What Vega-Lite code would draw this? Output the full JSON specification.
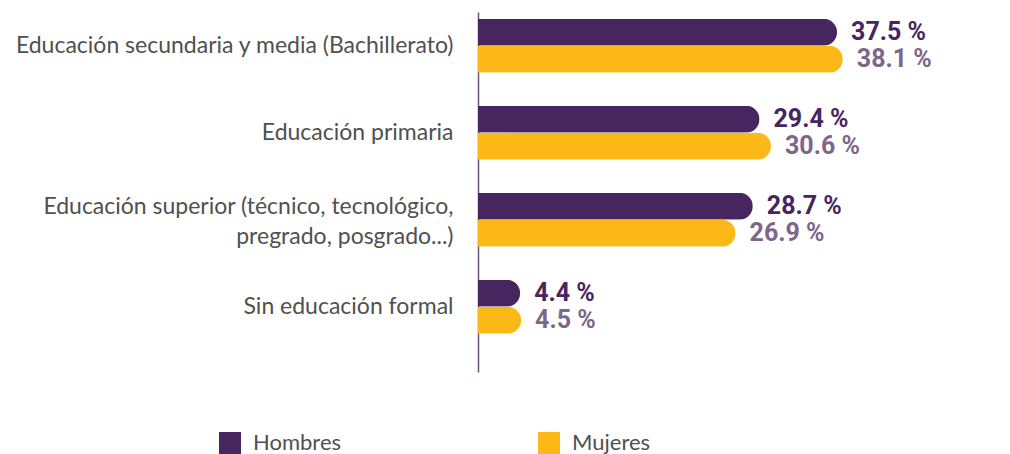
{
  "$schema": "https://vega.github.io/schema/vega-lite/v6.json",
  "width": 383,
  "height": 360,
  "autosize": {"type": "none"},
  "padding": {"left": 478, "top": 12, "right": 149, "bottom": 82},
  "background": "#ffffff",
  "config": {"view": {"stroke": null}},
  "data": {
    "values": [
      {"nivel": "Educación secundaria y media (Bachillerato)", "sexo": "Hombres", "valor": 37.5},
      {"nivel": "Educación secundaria y media (Bachillerato)", "sexo": "Mujeres", "valor": 38.1},
      {"nivel": "Educación primaria", "sexo": "Hombres", "valor": 29.4},
      {"nivel": "Educación primaria", "sexo": "Mujeres", "valor": 30.6},
      {"nivel": "Educación superior (técnico, tecnológico,|pregrado, posgrado...)", "sexo": "Hombres", "valor": 28.7},
      {"nivel": "Educación superior (técnico, tecnológico,|pregrado, posgrado...)", "sexo": "Mujeres", "valor": 26.9},
      {"nivel": "Sin educación formal", "sexo": "Hombres", "valor": 4.4},
      {"nivel": "Sin educación formal", "sexo": "Mujeres", "valor": 4.5}
    ]
  },
  "transform": [
    {"calculate": "format(datum.valor, '.1f') + ' %'", "as": "etiqueta"}
  ],
  "encoding": {
    "y": {
      "field": "nivel",
      "type": "nominal",
      "sort": [
        "Educación secundaria y media (Bachillerato)",
        "Educación primaria",
        "Educación superior (técnico, tecnológico,|pregrado, posgrado...)",
        "Sin educación formal"
      ],
      "scale": {"paddingInner": 0.38, "paddingOuter": 0.259, "align": 0.15},
      "axis": {
        "title": null,
        "ticks": false,
        "labelPadding": 25,
        "labelFont": "Lato",
        "labelFontSize": 23,
        "labelColor": "#505050",
        "labelLimit": 600,
        "labelLineHeight": 30,
        "labelOffset": {"condition": {"test": "indexof(datum.value, '|') >= 0", "value": -13}, "value": 0},
        "labelExpr": "split(datum.value, '|')",
        "domainColor": "#6d5480",
        "domainWidth": 1.5
      }
    },
    "yOffset": {
      "field": "sexo",
      "sort": ["Hombres", "Mujeres"],
      "scale": {"paddingInner": 0, "paddingOuter": 0}
    },
    "x": {
      "field": "valor",
      "type": "quantitative",
      "scale": {"domain": [0, 40]},
      "axis": null
    }
  },
  "layer": [
    {
      "mark": {"type": "bar", "cornerRadiusEnd": 13.5},
      "encoding": {
        "color": {
          "field": "sexo",
          "type": "nominal",
          "scale": {"domain": ["Hombres", "Mujeres"], "range": ["#47255f", "#fbb817"]},
          "legend": {
            "title": null,
            "orient": "none",
            "legendX": -259,
            "legendY": 420,
            "direction": "horizontal",
            "columns": 2,
            "symbolType": "square",
            "symbolSize": 484,
            "symbolStrokeWidth": 0,
            "labelFont": "Lato",
            "labelFontSize": 22,
            "labelColor": "#505050",
            "labelOffset": 12,
            "columnPadding": 196
          }
        }
      }
    },
    {
      "mark": {"type": "text", "align": "left", "baseline": "middle", "dx": 14, "font": "Roboto", "fontWeight": "bold", "fontSize": 25},
      "encoding": {
        "text": {"field": "etiqueta"},
        "color": {
          "field": "sexo",
          "type": "nominal",
          "scale": {"domain": ["Hombres", "Mujeres"], "range": ["#47255f", "#7d6689"]},
          "legend": null
        }
      }
    }
  ],
  "resolve": {"scale": {"color": "independent"}}
}
